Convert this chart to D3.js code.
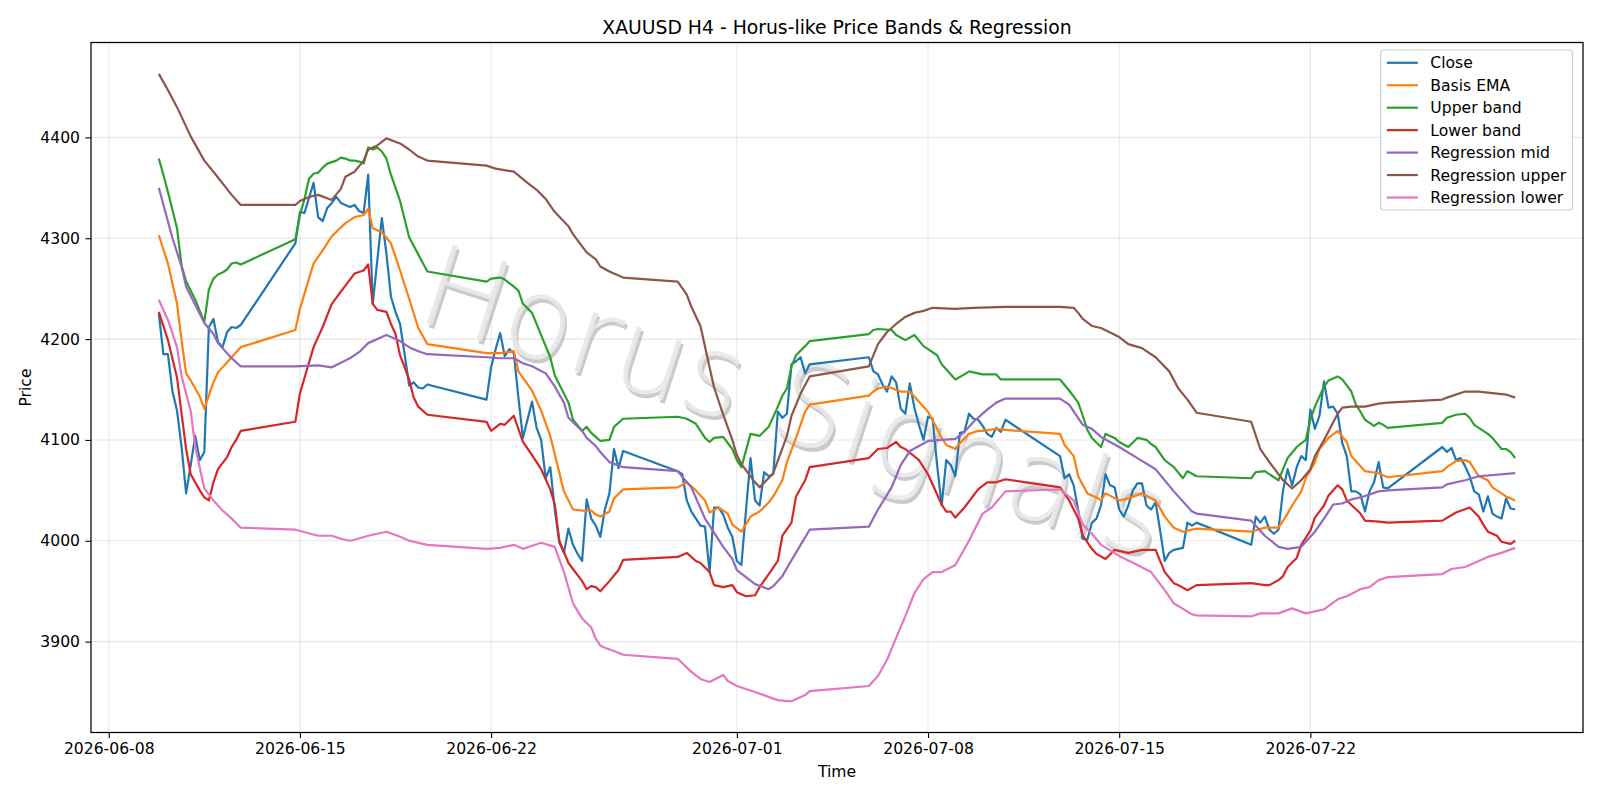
<!DOCTYPE html>
<html>
<head>
<meta charset="utf-8">
<script src="https://cdn.jsdelivr.net/npm/d3@7"></script>
<style>
  body { margin: 0; background: #fff; }
  svg { font-family: "DejaVu Sans", sans-serif; }
</style>
</head>
<body>
<svg id="chart" width="1600" height="800"></svg>
<script>
// H4 closes: one array per trading week, [first bar, values], bars 4 hours apart
const closeWeeks = [
  ["06-09 20", [4225, 4185, 4185, 4148, 4129, 4093, 4047, 4075, 4104, 4080, 4088, 4212, 4220, 4197, 4192, 4207, 4212, 4211, 4214]],
  ["06-14 20", [4295, 4326, 4325, 4340, 4355, 4321, 4317, 4330, 4335, 4341, 4335, 4333, 4331, 4333, 4327, 4325, 4363, 4235, 4278, 4320, 4285, 4242, 4227, 4215, 4185, 4154, 4157, 4152, 4151, 4155]],
  ["06-21 20", [4140, 4172, 4190, 4206, 4183, 4190, 4186, 4142, 4102, 4120, 4138, 4112, 4100, 4062, 4073, 4031, 3998, 3988, 4012, 3996, 3987, 3980, 4041, 4022, 4015, 4004, 4031, 4047, 4091, 4072, 4089]],
  ["06-28 20", [4069, 4066, 4040, 4029, 4022, 4015, 4014, 3969, 4033, 4033, 4026, 4013, 4004, 3980, 3976, 4030, 4082, 4040, 4035, 4068, 4064, 4066, 4128, 4122, 4126, 4175, 4178, 4182, 4166, 4175]],
  ["07-05 20", [4182, 4168, 4165, 4155, 4148, 4163, 4157, 4131, 4126, 4156, 4132, 4115, 4100, 4123, 4121, 4075, 4035, 4080, 4075, 4064, 4107, 4108, 4126, 4121, 4120, 4114, 4106, 4103, 4112, 4108, 4120]],
  ["07-12 20", [4084, 4062, 4066, 4055, 4030, 4002, 4001, 4018, 4022, 4035, 4066, 4055, 4053, 4031, 4024, 4035, 4050, 4057, 4057, 4035, 4031, 4038, 4010, 3980, 3988, 3991, 3992, 3993, 4018, 4015, 4018]],
  ["07-19 20", [3996, 4024, 4018, 4024, 4011, 4007, 4011, 4050, 4071, 4055, 4073, 4084, 4080, 4130, 4111, 4124, 4158, 4132, 4133, 4126, 4097, 4084, 4049, 4049, 4046, 4029, 4049, 4058, 4078, 4053, 4052]],
  ["07-26 20", [4093, 4088, 4092, 4080, 4082, 4074, 4064, 4049, 4046, 4029, 4044, 4027, 4024, 4022, 4042, 4032, 4031]]
];

const basisEma = [
  ["06-09 20",4303],["06-10 04",4275],["06-10 12",4235],["06-10 16",4199],["06-10 20",4166],["06-11 00",4159],["06-11 08",4143],["06-11 12",4131],["06-11 20",4157],["06-12 00",4167],["06-12 12",4182],["06-12 20",4192],
  ["06-14 20",4209],["06-15 00",4230],["06-15 12",4275],["06-15 20",4288],["06-16 04",4302],["06-16 16",4315],["06-17 00",4321],["06-17 08",4323],["06-17 12",4329],["06-17 16",4310],["06-17 20",4308],["06-18 00",4306],["06-18 08",4295],["06-18 16",4268],["06-19 00",4240],["06-19 08",4211],["06-19 16",4195],
  ["06-21 20",4186],["06-22 08",4186],["06-22 20",4188],["06-23 00",4168],["06-23 12",4149],["06-23 20",4129],["06-24 04",4104],["06-24 16",4049],["06-25 00",4031],["06-25 08",4030],["06-25 16",4030],["06-25 20",4026],["06-26 00",4024],["06-26 08",4029],["06-26 12",4042],["06-26 20",4051],
  ["06-28 20",4053],["06-29 04",4058],["06-29 12",4050],["06-29 20",4040],["06-30 00",4028],["06-30 08",4033],["06-30 16",4027],["06-30 20",4016],["07-01 04",4009],["07-01 12",4024],["07-01 20",4029],["07-02 04",4038],["07-02 08",4044],["07-02 16",4060],["07-02 20",4078],["07-03 04",4102],["07-03 12",4128],["07-03 16",4135],
  ["07-05 20",4144],["07-06 00",4148],["07-06 04",4151],["07-06 12",4153],["07-07 00",4148],["07-07 08",4148],["07-07 20",4133],["07-08 00",4128],["07-08 08",4111],["07-08 12",4102],["07-08 16",4095],["07-09 00",4091],["07-09 04",4097],["07-09 12",4106],["07-09 20",4109],["07-10 00",4109],["07-10 12",4111],["07-10 20",4110],
  ["07-12 20",4106],["07-13 00",4095],["07-13 08",4084],["07-13 12",4064],["07-13 20",4047],["07-14 04",4043],["07-14 08",4040],["07-14 12",4047],["07-15 00",4040],["07-15 08",4042],["07-15 20",4047],["07-16 08",4040],["07-16 16",4024],["07-17 00",4013],["07-17 08",4009],["07-17 16",4011],["07-17 20",4012],
  ["07-19 20",4009],["07-20 08",4013],["07-20 20",4013],["07-21 04",4027],["07-21 08",4035],["07-21 16",4049],["07-21 20",4062],["07-22 04",4078],["07-22 08",4091],["07-22 16",4102],["07-23 00",4109],["07-23 08",4098],["07-23 12",4084],["07-24 00",4069],["07-24 12",4067],["07-24 20",4063],
  ["07-26 20",4069],["07-27 00",4073],["07-27 08",4079],["07-27 16",4080],["07-27 20",4078],["07-28 00",4071],["07-28 04",4064],["07-28 12",4060],["07-28 16",4053],["07-29 00",4047],["07-29 04",4044],["07-29 08",4042],["07-29 12",4040]
];

const upperBand = [
  ["06-09 20",4379],["06-10 00",4363],["06-10 04",4346],["06-10 08",4328],["06-10 12",4310],["06-10 16",4273],["06-10 20",4257],["06-11 04",4239],["06-11 08",4228],["06-11 12",4217],["06-11 16",4249],["06-11 20",4260],["06-12 00",4264],["06-12 04",4266],["06-12 08",4269],["06-12 12",4275],["06-12 16",4276],["06-12 20",4274],
  ["06-14 20",4299],["06-15 00",4323],["06-15 04",4339],["06-15 08",4359],["06-15 12",4364],["06-15 16",4365],["06-15 20",4370],["06-16 00",4374],["06-16 08",4377],["06-16 12",4380],["06-16 16",4379],["06-16 20",4377],["06-17 00",4377],["06-17 04",4376],["06-17 08",4374],["06-17 12",4390],["06-17 16",4388],["06-17 20",4390],["06-18 00",4386],["06-18 04",4379],["06-18 08",4363],["06-18 16",4337],["06-19 00",4301],["06-19 08",4284],["06-19 16",4267],
  ["06-21 20",4257],["06-22 00",4260],["06-22 08",4261],["06-22 12",4259],["06-22 20",4252],["06-23 00",4248],["06-23 04",4235],["06-23 12",4226],["06-23 20",4204],["06-24 04",4182],["06-24 08",4164],["06-24 20",4137],["06-25 00",4120],["06-25 08",4109],["06-25 12",4113],["06-25 16",4107],["06-25 20",4103],["06-26 00",4099],["06-26 08",4100],["06-26 12",4113],["06-26 20",4121],
  ["06-28 20",4123],["06-29 04",4121],["06-29 12",4116],["06-29 20",4102],["06-30 00",4098],["06-30 04",4102],["06-30 12",4103],["06-30 20",4091],["07-01 00",4080],["07-01 04",4073],["07-01 12",4106],["07-01 20",4104],["07-02 04",4113],["07-02 12",4133],["07-02 16",4144],["07-02 20",4151],["07-03 00",4173],["07-03 04",4184],["07-03 12",4193],["07-03 16",4198],
  ["07-05 20",4205],["07-06 00",4209],["07-06 04",4210],["07-06 16",4209],["07-06 20",4204],["07-07 04",4199],["07-07 12",4204],["07-07 20",4193],["07-08 00",4190],["07-08 08",4184],["07-08 12",4175],["07-09 00",4160],["07-09 08",4165],["07-09 12",4168],["07-10 00",4165],["07-10 12",4165],["07-10 16",4160],["07-10 20",4160],
  ["07-12 20",4160],["07-13 04",4149],["07-13 12",4137],["07-13 16",4124],["07-13 20",4110],["07-14 00",4102],["07-14 08",4093],["07-14 12",4106],["07-14 20",4102],["07-15 00",4098],["07-15 08",4093],["07-15 16",4102],["07-16 00",4100],["07-16 04",4096],["07-16 08",4093],["07-16 16",4080],["07-17 00",4073],["07-17 08",4062],["07-17 12",4069],["07-17 20",4064],
  ["07-19 20",4062],["07-20 00",4068],["07-20 08",4069],["07-20 20",4060],["07-21 00",4071],["07-21 04",4082],["07-21 12",4093],["07-21 20",4100],["07-22 00",4120],["07-22 04",4133],["07-22 12",4153],["07-22 16",4159],["07-23 00",4163],["07-23 04",4160],["07-23 12",4148],["07-23 16",4135],["07-23 20",4128],["07-24 00",4120],["07-24 08",4114],["07-24 12",4117],["07-24 16",4115],["07-24 20",4112],
  ["07-26 20",4117],["07-27 00",4122],["07-27 08",4125],["07-27 16",4126],["07-27 20",4122],["07-28 00",4115],["07-28 08",4109],["07-28 12",4106],["07-28 16",4102],["07-29 00",4091],["07-29 04",4091],["07-29 08",4088],["07-29 12",4082]
];

const lowerBand = [
  ["06-09 20",4227],["06-10 04",4199],["06-10 12",4162],["06-10 16",4126],["06-10 20",4091],["06-11 00",4066],["06-11 08",4050],["06-11 12",4043],["06-11 16",4040],["06-11 20",4058],["06-12 00",4071],["06-12 08",4083],["06-12 12",4093],["06-12 16",4100],["06-12 20",4109],
  ["06-14 20",4118],["06-15 00",4146],["06-15 12",4192],["06-15 20",4212],["06-16 04",4235],["06-16 12",4247],["06-16 20",4259],["06-17 00",4265],["06-17 08",4268],["06-17 12",4274],["06-17 16",4235],["06-17 20",4229],["06-18 04",4227],["06-18 08",4215],["06-18 12",4205],["06-18 16",4184],["06-19 00",4160],["06-19 04",4142],["06-19 08",4133],["06-19 16",4125],
  ["06-21 20",4118],["06-22 00",4109],["06-22 08",4116],["06-22 12",4115],["06-22 20",4124],["06-23 04",4098],["06-23 12",4085],["06-23 20",4071],["06-24 04",4051],["06-24 08",4036],["06-24 12",4000],["06-24 20",3978],["06-25 08",3960],["06-25 12",3952],["06-25 16",3955],["06-25 20",3954],["06-26 00",3950],["06-26 08",3960],["06-26 16",3971],["06-26 20",3981],
  ["06-28 20",3984],["06-29 04",3988],["06-29 12",3980],["06-29 16",3978],["06-30 00",3969],["06-30 04",3956],["06-30 12",3954],["06-30 20",3956],["07-01 00",3949],["07-01 08",3945],["07-01 16",3946],["07-01 20",3954],["07-02 04",3967],["07-02 12",3980],["07-02 16",4005],["07-03 00",4018],["07-03 04",4044],["07-03 12",4060],["07-03 16",4073],
  ["07-05 20",4082],["07-06 04",4091],["07-06 12",4092],["07-06 20",4098],["07-07 00",4093],["07-07 04",4091],["07-07 16",4080],["07-08 00",4066],["07-08 12",4036],["07-08 16",4029],["07-08 20",4029],["07-09 00",4023],["07-09 08",4033],["07-09 20",4051],["07-10 04",4058],["07-10 12",4058],["07-10 20",4061],
  ["07-12 20",4053],["07-13 04",4040],["07-13 12",4022],["07-13 16",4005],["07-14 00",3992],["07-14 04",3987],["07-14 12",3982],["07-14 20",3991],["07-15 08",3988],["07-15 20",3991],["07-16 08",3991],["07-16 16",3969],["07-17 00",3958],["07-17 04",3956],["07-17 12",3951],["07-17 20",3956],
  ["07-19 20",3958],["07-20 08",3956],["07-20 12",3956],["07-20 20",3961],["07-21 00",3965],["07-21 04",3974],["07-21 12",3983],["07-21 16",3996],["07-22 00",4010],["07-22 04",4023],["07-22 12",4035],["07-22 16",4045],["07-23 00",4055],["07-23 04",4051],["07-23 08",4040],["07-23 20",4027],["07-24 00",4020],["07-24 12",4019],["07-24 20",4018],
  ["07-26 20",4020],["07-27 08",4028],["07-27 20",4033],["07-28 04",4024],["07-28 08",4016],["07-28 12",4009],["07-28 20",4005],["07-29 00",3999],["07-29 04",3998],["07-29 08",3997],["07-29 12",4000]
];

const regressionMid = [
  ["06-09 20",4350],["06-10 08",4300],["06-10 16",4272],["06-10 20",4252],["06-11 12",4216],["06-11 20",4205],["06-12 00",4196],["06-12 12",4181],["06-12 20",4173],
  ["06-14 20",4173],["06-15 16",4174],["06-16 04",4172],["06-16 20",4181],["06-17 04",4187],["06-17 12",4196],["06-18 00",4202],["06-18 04",4204],["06-18 16",4198],["06-19 00",4192],["06-19 08",4188],["06-19 16",4185],
  ["06-21 20",4182],["06-22 08",4181],["06-22 20",4181],["06-23 04",4176],["06-23 12",4173],["06-24 00",4166],["06-24 08",4153],["06-24 16",4137],["06-24 20",4122],["06-25 08",4109],["06-25 12",4102],["06-25 20",4094],["06-26 00",4088],["06-26 08",4078],["06-26 20",4073],
  ["06-28 20",4069],["06-29 08",4053],["06-29 20",4022],["06-30 12",3994],["06-30 20",3982],["07-01 00",3971],["07-01 16",3957],["07-02 04",3952],["07-02 08",3955],["07-02 16",3965],["07-02 20",3973],["07-03 08",3996],["07-03 16",4011],
  ["07-05 20",4014],["07-06 04",4031],["07-06 16",4053],["07-06 20",4064],["07-07 00",4075],["07-07 08",4089],["07-08 00",4099],["07-09 00",4101],["07-09 08",4108],["07-09 16",4118],["07-10 04",4130],["07-10 12",4137],["07-10 20",4141],
  ["07-12 20",4141],["07-13 04",4135],["07-13 16",4115],["07-14 00",4111],["07-14 08",4103],["07-15 00",4093],["07-15 16",4082],["07-16 08",4071],["07-17 00",4049],["07-17 16",4029],["07-17 20",4027],
  ["07-19 20",4020],["07-20 08",4005],["07-20 20",3994],["07-21 04",3992],["07-21 16",3994],["07-22 04",4009],["07-22 12",4022],["07-22 20",4036],["07-23 04",4037],["07-23 12",4041],["07-23 20",4043],["07-24 12",4049],["07-24 20",4050],
  ["07-26 20",4053],["07-27 00",4056],["07-27 16",4060],["07-28 04",4064],["07-29 12",4067]
];

const regressionUpper = [
  ["06-09 20",4463],["06-10 04",4447],["06-10 12",4430],["06-11 00",4401],["06-11 12",4377],["06-11 20",4366],["06-12 12",4343],["06-12 20",4333],
  ["06-14 20",4333],["06-15 00",4337],["06-15 08",4341],["06-15 16",4343],["06-16 04",4338],["06-16 12",4349],["06-16 16",4361],["06-17 00",4366],["06-17 08",4377],["06-17 12",4388],["06-17 20",4392],["06-18 04",4399],["06-18 16",4394],["06-19 00",4388],["06-19 08",4381],["06-19 16",4377],
  ["06-21 20",4372],["06-22 04",4369],["06-22 20",4366],["06-23 08",4355],["06-23 16",4348],["06-24 00",4339],["06-24 08",4326],["06-24 20",4312],["06-25 00",4304],["06-25 08",4292],["06-25 12",4286],["06-25 20",4279],["06-26 00",4272],["06-26 08",4267],["06-26 20",4261],
  ["06-28 20",4257],["06-29 04",4244],["06-29 08",4232],["06-29 16",4213],["06-30 00",4172],["06-30 04",4152],["06-30 12",4125],["06-30 20",4100],["07-01 00",4085],["07-01 04",4076],["07-01 16",4058],["07-01 20",4053],["07-02 08",4067],["07-02 20",4104],["07-03 00",4124],["07-03 08",4146],["07-03 16",4163],
  ["07-05 20",4173],["07-06 04",4195],["07-06 12",4207],["07-06 20",4215],["07-07 04",4222],["07-07 12",4226],["07-07 20",4228],["07-08 04",4231],["07-09 00",4230],["07-09 16",4231],["07-10 20",4232],
  ["07-12 20",4232],["07-13 08",4231],["07-13 12",4226],["07-13 16",4220],["07-14 00",4213],["07-14 08",4211],["07-15 00",4202],["07-15 08",4195],["07-15 20",4191],["07-16 08",4182],["07-16 20",4168],["07-17 04",4151],["07-17 12",4140],["07-17 20",4127],
  ["07-19 20",4118],["07-20 04",4091],["07-20 12",4078],["07-21 00",4060],["07-21 08",4052],["07-21 16",4060],["07-22 00",4071],["07-22 04",4084],["07-22 12",4100],["07-23 00",4126],["07-23 04",4132],["07-23 12",4133],["07-24 00",4133],["07-24 12",4136],["07-24 20",4137],
  ["07-26 20",4140],["07-27 00",4142],["07-27 16",4148],["07-28 04",4148],["07-28 20",4146],["07-29 04",4145],["07-29 12",4142]
];

const regressionLower = [
  ["06-09 20",4239],["06-10 04",4219],["06-10 12",4192],["06-10 16",4163],["06-11 00",4129],["06-11 04",4093],["06-11 12",4052],["06-11 20",4040],["06-12 04",4030],["06-12 12",4022],["06-12 20",4013],
  ["06-14 20",4011],["06-15 16",4005],["06-16 04",4005],["06-16 12",4002],["06-16 20",4000],["06-17 00",4001],["06-17 12",4005],["06-18 04",4009],["06-18 16",4004],["06-19 00",4000],["06-19 16",3996],
  ["06-21 20",3992],["06-22 08",3993],["06-22 20",3996],["06-23 04",3992],["06-23 12",3995],["06-23 20",3998],["06-24 08",3994],["06-24 16",3969],["06-25 00",3938],["06-25 08",3923],["06-25 16",3914],["06-25 20",3903],["06-26 00",3896],["06-26 04",3894],["06-26 16",3889],["06-26 20",3887],
  ["06-28 20",3883],["06-29 08",3870],["06-29 16",3863],["06-30 00",3860],["06-30 12",3867],["06-30 16",3861],["07-01 00",3856],["07-01 16",3850],["07-02 12",3842],["07-02 20",3841],["07-03 00",3841],["07-03 12",3847],["07-03 16",3851],
  ["07-05 20",3856],["07-06 04",3866],["07-06 12",3882],["07-06 20",3904],["07-07 04",3925],["07-07 12",3948],["07-07 20",3962],["07-08 04",3969],["07-08 12",3969],["07-09 00",3976],["07-09 12",4000],["07-10 00",4027],["07-10 08",4033],["07-10 20",4049],
  ["07-12 20",4051],["07-13 08",4040],["07-13 16",4016],["07-14 00",4007],["07-14 08",3996],["07-15 00",3985],["07-15 16",3976],["07-16 04",3969],["07-16 16",3951],["07-17 00",3938],["07-17 16",3927],["07-17 20",3926],
  ["07-19 20",3925],["07-20 04",3928],["07-20 20",3928],["07-21 08",3933],["07-21 20",3928],["07-22 12",3932],["07-23 00",3942],["07-23 08",3945],["07-23 20",3952],["07-24 04",3954],["07-24 12",3961],["07-24 20",3964],
  ["07-26 20",3967],["07-27 04",3972],["07-27 16",3974],["07-28 00",3978],["07-28 12",3984],["07-29 00",3988],["07-29 12",3993]
];

const seriesNames = ["Close", "Basis EMA", "Upper band", "Lower band", "Regression mid", "Regression upper", "Regression lower"];
const seriesColors = ["#1f77b4", "#ff7f0e", "#2ca02c", "#d62728", "#9467bd", "#8c564b", "#e377c2"];
const xTickLabels = ["2026-06-08", "2026-06-15", "2026-06-22", "2026-07-01", "2026-07-08", "2026-07-15", "2026-07-22"];
const yTickValues = [3900, 4000, 4100, 4200, 4300, 4400];
const chartTitle = "XAUUSD H4 - Horus-like Price Bands & Regression";
const watermarkText = "Horus Signals";

// ---- layout (matplotlib-like axes box)
const width = 1600, height = 800;
const margin = { left: 91, right: 17, top: 42.5, bottom: 67.5 };
const plotL = margin.left, plotR = width - margin.right;
const plotT = margin.top, plotB = height - margin.bottom;
const fs = 15.6; // tick / label font size

const parseBar = d3.utcParse("%Y-%m-%d %H");
const T = (s) => parseBar("2026-" + s);

// Close: expand each week from its first bar time
const closeData = closeWeeks.flatMap(([start, vals]) =>
	vals.map((v, i) => [d3.utcHour.offset(T(start), 4 * i), v])
);
const toPts = (arr) => arr.map(([t, v]) => [T(t), v]);
const allSeries = [
	closeData,
	toPts(basisEma),
	toPts(upperBand),
	toPts(lowerBand),
	toPts(regressionMid),
	toPts(regressionUpper),
	toPts(regressionLower),
];

// 5% padding like matplotlib autoscale
const flat = allSeries.flat();
const [t0, t1] = d3.extent(flat, (d) => d[0]);
const [v0, v1] = d3.extent(flat, (d) => d[1]);
const tPad = (t1 - t0) * 0.05, vPad = (v1 - v0) * 0.05;

const x = d3.scaleUtc()
	.domain([new Date(+t0 - tPad), new Date(+t1 + tPad)])
	.range([plotL, plotR]);
const y = d3.scaleLinear()
	.domain([v0 - vPad, v1 + vPad])
	.range([plotB, plotT]);

const svg = d3.select("#chart");
const parseDay = d3.utcParse("%Y-%m-%d");
const xTicks = xTickLabels.map(parseDay);

// grid
const grid = svg.append("g").attr("stroke", "#b0b0b0").attr("stroke-opacity", 0.3).attr("stroke-width", 1.1);
grid.selectAll(".gx").data(xTicks).join("line")
	.attr("x1", (d) => x(d)).attr("x2", (d) => x(d))
	.attr("y1", plotT).attr("y2", plotB);
grid.selectAll(".gy").data(yTickValues).join("line")
	.attr("x1", plotL).attr("x2", plotR)
	.attr("y1", (d) => y(d)).attr("y2", (d) => y(d));

// watermark: thin pale letters with an offset grey shadow
const wm = svg.append("g")
	.attr("transform", `translate(${(plotL + plotR) / 2 - 42},${(plotT + plotB) / 2 + 14}) rotate(18)`)
	.style("font-family", '"DejaVu Sans ExtraLight", "DejaVu Sans", sans-serif')
	.style("font-weight", 200)
	.style("font-size", "114px")
	.attr("text-anchor", "middle")
	.attr("dominant-baseline", "central");
wm.append("text").text(watermarkText)
	.attr("x", 3).attr("y", 3)
	.attr("fill", "#7a7a7a").attr("fill-opacity", 0.4);
wm.append("text").text(watermarkText)
	.attr("fill", "#e8e8e8").attr("fill-opacity", 0.9);

// lines
const line = d3.line().x((d) => x(d[0])).y((d) => y(d[1]));
svg.append("g")
	.selectAll("path")
	.data(allSeries)
	.join("path")
	.attr("d", line)
	.attr("fill", "none")
	.attr("stroke", (d, i) => seriesColors[i])
	.attr("stroke-width", 2.2)
	.attr("stroke-linejoin", "round");

// axes
const xAxis = svg.append("g")
	.attr("transform", `translate(0,${plotB})`)
	.call(d3.axisBottom(x).tickValues(xTicks).tickFormat(d3.utcFormat("%Y-%m-%d")).tickSize(5.5).tickPadding(5));
const yAxis = svg.append("g")
	.attr("transform", `translate(${plotL},0)`)
	.call(d3.axisLeft(y).tickValues(yTickValues).tickFormat(d3.format("d")).tickSize(5.5).tickPadding(5.5));
[xAxis, yAxis].forEach((a) => {
	a.select(".domain").remove();
	a.selectAll(".tick line").attr("stroke", "#000").attr("stroke-width", 1.1);
	a.selectAll(".tick text").attr("fill", "#000")
		.style("font-family", '"DejaVu Sans", sans-serif').style("font-size", fs + "px");
});

// frame
svg.append("rect")
	.attr("x", plotL).attr("y", plotT)
	.attr("width", plotR - plotL).attr("height", plotB - plotT)
	.attr("fill", "none").attr("stroke", "#000").attr("stroke-width", 1.25);

// title and axis labels
svg.append("text").text(chartTitle)
	.attr("x", (plotL + plotR) / 2).attr("y", 33.5)
	.attr("text-anchor", "middle").style("font-size", "18.8px");
svg.append("text").text("Time")
	.attr("x", (plotL + plotR) / 2).attr("y", 777)
	.attr("text-anchor", "middle").style("font-size", fs + "px");
svg.append("text").text("Price")
	.attr("transform", `translate(31,${(plotT + plotB) / 2}) rotate(-90)`)
	.attr("text-anchor", "middle").style("font-size", fs + "px");

// legend, upper right
const rowH = 22.45, pad = 6.2, handleLen = 31, textGap = 12.5;
const legend = svg.append("g");
const box = legend.append("rect")
	.attr("fill", "#fff").attr("fill-opacity", 0.8)
	.attr("stroke", "#cccccc").attr("stroke-width", 1.2)
	.attr("rx", 3).attr("ry", 3);
const rows = legend.selectAll(".row").data(seriesNames).join("g")
	.attr("transform", (d, i) => `translate(0,${pad + 6.6 + i * rowH})`);
rows.append("line")
	.attr("x1", pad).attr("x2", pad + handleLen)
	.attr("stroke", (d, i) => seriesColors[i]).attr("stroke-width", 2.2);
const labels = rows.append("text").text((d) => d)
	.attr("x", pad + handleLen + textGap).attr("dy", "0.36em")
	.style("font-size", fs + "px");
const maxW = d3.max(labels.nodes(), (n) => n.getComputedTextLength());
const legW = pad + handleLen + textGap + maxW + pad;
const legH = 160;
box.attr("width", legW).attr("height", legH);
legend.attr("transform", `translate(${plotR - 10.5 - legW},${plotT + 7.5})`);
</script>
</body>
</html>
